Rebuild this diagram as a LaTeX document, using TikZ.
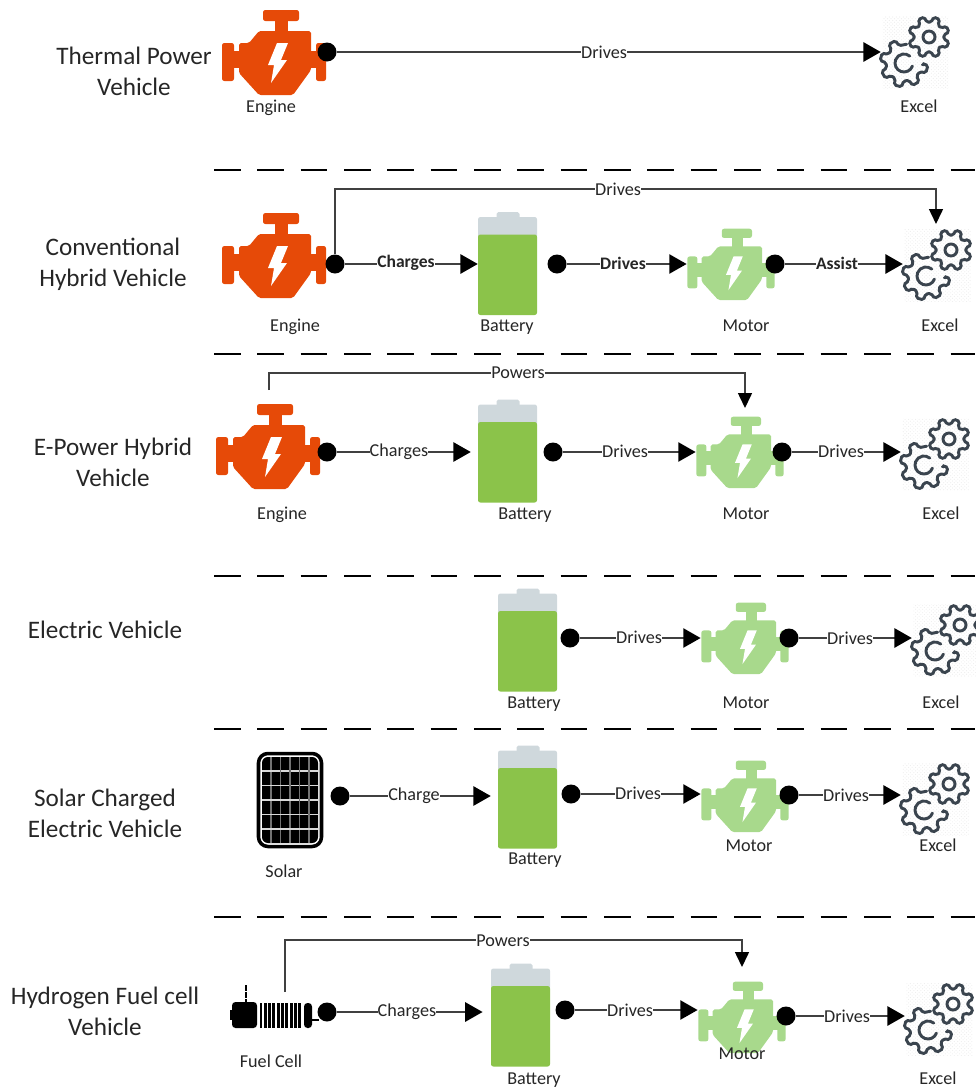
\documentclass[tikz,border=0pt]{standalone}
\usepackage{fontspec}
\setmainfont{Carlito}
\usetikzlibrary{arrows.meta,patterns,calc}
\definecolor{enginered}{HTML}{E64A08}
\definecolor{motorgreen}{HTML}{A8D98C}
\definecolor{batterygreen}{HTML}{8BC34A}
\definecolor{batterygrey}{HTML}{CFD8DC}
\definecolor{gearline}{HTML}{3A444E}
\tikzset{
    rowtitle/.style={align=center,font=\fontsize{21.5}{26.4}\selectfont,text=black!85},
    iconlabel/.style={font=\fontsize{15.5}{17}\selectfont,text=black!85,inner sep=0pt,text height=13pt,text depth=1.6pt},
    flowlabel/.style={font=\fontsize{15.5}{17}\selectfont,text=black!85,fill=white,inner sep=0pt},
    flowbold/.style={flowlabel,font=\fontsize{15}{17}\selectfont\bfseries},
    flow/.style={draw=black!75,line width=1.3pt,-{Triangle[length=.52cm,width=.58cm,fill=black,color=black]}},
    topflow/.style={draw=black!75,line width=1.3pt,-{Triangle[length=.45cm,width=.42cm,fill=black,color=black]}},
    divider/.style={draw=black,line width=.9pt,dash pattern=on .8cm off .5cm},
    dot/.style={circle,fill=black,minimum size=.57cm,inner sep=0pt},
    enginebox/.style={minimum width=3.15cm,minimum height=2.55cm,inner sep=0pt},
    motorbox/.style={minimum width=2.65cm,minimum height=2.1cm,inner sep=0pt},
    batterybox/.style={minimum width=1.77cm,minimum height=3.09cm,inner sep=0pt},
    excelbox/.style={minimum width=2.07cm,minimum height=2.19cm,inner sep=0pt},
    solarbox/.style={minimum width=1.98cm,minimum height=2.91cm,inner sep=0pt},
    fuelbox/.style={minimum width=2.46cm,minimum height=1.29cm,inner sep=0pt},
    pics/engine/.style={code={
        \fill[#1,rounded corners=2pt] (-11,-42) rectangle (25,-31);
        \fill[#1] (1,-32) rectangle (14,-20);
        \fill[#1,rounded corners=1.5pt] (-15,-21) -- (37,-21) -- (37,18) -- (19,43) -- (-15,43) -- (-35,21) -- (-35,-9) -- (-25,-9) -- cycle;
        \fill[#1,rounded corners=2pt] (-52,-9) rectangle (-40,29);
        \fill[#1] (-41,-1) rectangle (-34,16);
        \fill[#1,rounded corners=2pt] (42,-9) rectangle (52,29);
        \fill[#1] (36,-1) rectangle (43,16);
        \fill[white] (3,-9) -- (14,-9) -- (7,8) -- (13,8) -- (-3,31) -- (0,13) -- (-6,13) -- cycle;
    }},
    pics/battery/.style={code={
        \fill[batterygrey,rounded corners=1.5pt] (-11,-51.5) rectangle (12,-40);
        \fill[batterygrey,rounded corners=2pt] (-29.5,-46.5) rectangle (29.5,-25);
        \fill[batterygreen,rounded corners=2pt] (-29.5,-29) -- (29.5,-29) -- (29.5,51.5) -- (-29.5,51.5) -- cycle;
    }},
    pics/excel/.style={code={
        \fill[pattern=crosshatch dots,pattern color=black!7] (-33,-35) rectangle (33,37);
        \begin{scope}[shift={(-11.5,11.5)}]
            \draw[gearline,line width=2.5pt,rounded corners=1.5pt,line cap=round] (6:19)
                \foreach \a in {15,60,105,150,195,240} {
                    -- (\a-14:18) -- (\a-9:24) -- (\a+9:24) -- (\a+14:18)
                } -- (278:19);
            \draw[gearline,line width=2.5pt,line cap=round] (20:9) arc[start angle=20,end angle=310,radius=9];
        \end{scope}
        \begin{scope}[shift={(13.5,-14.5)}]
            \draw[gearline,line width=2.5pt,rounded corners=1.5pt] (8.5:15)
                \foreach \a in {22.5,67.5,112.5,157.5,202.5,247.5,292.5,337.5} {
                    -- (\a-14:15) -- (\a-9:20.5) -- (\a+9:20.5) -- (\a+14:15)
                } -- cycle;
            \draw[gearline,line width=2.5pt] (0,0) circle (6);
        \end{scope}
    }},
    pics/solar/.style={code={
        \draw[black,fill=white,line width=3pt,rounded corners=8pt] (-31.5,-46.5) rectangle (31.5,46.5);
        \fill[black,rounded corners=5pt] (-28,-43) rectangle (28,43);
        \foreach \i in {-2,...,2} {
            \draw[black!55,line width=.9pt] (\i*9.5,-43) -- (\i*9.5,43);
            \draw[white!85!black,line width=1pt] (-28,\i*14.5) -- (28,\i*14.5);
        }
    }},
    pics/fuelcell/.style={code={
        \draw[black,line width=2pt,dash pattern=on 5pt off 1pt] (-25,-22) -- (-25,-5);
        \fill[black,rounded corners=3pt] (-39,-5) rectangle (-14,21);
        \fill[black] (-41,3) rectangle (-36,13);
        \foreach \i in {0,...,9} {
            \draw[black,line width=2.4pt] (-10+\i*4.3,-4) -- (-10+\i*4.3,21);
        }
        \fill[black,rounded corners=3pt] (33,-4) rectangle (41,21);
        \draw[black,line width=1.3pt] (40,13) -- (48,13);
    }}
}
\begin{document}
\begin{tikzpicture}[x=.03cm,y=-.03cm]
    \path[use as bounding box] (0,0) rectangle (975,1089);

    \node[rowtitle] (TITLE1) at (134,71) {Thermal Power\\Vehicle};
    \node[rowtitle] (TITLE2) at (113,264) {Conventional\\Hybrid Vehicle};
    \node[rowtitle] (TITLE3) at (113,462) {E-Power Hybrid\\Vehicle};
    \node[rowtitle] (TITLE4) at (105,630) {Electric Vehicle};
    \node[rowtitle] (TITLE5) at (105,813) {Solar Charged\\Electric Vehicle};
    \node[rowtitle] (TITLE6) at (105,1011) {Hydrogen Fuel cell\\Vehicle};

    \coordinate (DIVL1) at (214,170);
    \coordinate (DIVR1) at (975,170);
    \coordinate (DIVL2) at (214,354);
    \coordinate (DIVR2) at (975,354);
    \coordinate (DIVL3) at (214,576);
    \coordinate (DIVR3) at (975,576);
    \coordinate (DIVL4) at (214,729);
    \coordinate (DIVR4) at (975,729);
    \coordinate (DIVL5) at (214,917);
    \coordinate (DIVR5) at (975,917);
    \draw[divider] (DIVL1) -- (DIVR1);
    \draw[divider] (DIVL2) -- (DIVR2);
    \draw[divider] (DIVL3) -- (DIVR3);
    \draw[divider] (DIVL4) -- (DIVR4);
    \draw[divider] (DIVL5) -- (DIVR5);

    \node[enginebox] (ENG1) at (274,52) {};
    \pic at (ENG1) {engine=enginered};
    \node[excelbox] (EXC1) at (915.5,51.5) {};
    \pic at (EXC1) {excel};
    \node[dot] (D1) at (327,52) {};
    \draw[flow] (D1) -- (D1 -| EXC1.west);
    \node[flowlabel] (L1) at (604,52) {Drives};
    \node[iconlabel] (ENGT1) at (271,106) {Engine};
    \node[iconlabel] (EXCT1) at (919,106) {Excel};

    \node[enginebox] (ENG2) at (274,255) {};
    \pic at (ENG2) {engine=enginered};
    \node[batterybox] (BAT2) at (507.5,263.5) {};
    \pic at (BAT2) {battery};
    \node[motorbox] (MOT2) at (731,264) {};
    \pic[scale=.84] at (MOT2) {engine=motorgreen};
    \node[excelbox] (EXC2) at (937.5,264.5) {};
    \pic at (EXC2) {excel};
    \node[dot] (D2) at (335,264) {};
    \node[dot] (D3) at (557,264) {};
    \node[dot] (D4) at (775,264) {};
    \coordinate (C2) at (936,189);
    \coordinate (T2) at (936,224);
    \draw[flow] (D2) -- (D2 -| BAT2.west);
    \draw[flow] (D3) -- (D3 -| MOT2.west);
    \draw[flow] (D4) -- (D4 -| EXC2.west);
    \draw[topflow] (D2) |- (C2) -- (T2);
    \node[flowbold] (L2) at (406,263) {Charges};
    \node[flowbold] (L3) at (623,263) {Drives};
    \node[flowbold] (L4) at (837,263) {Assist};
    \node[flowlabel] (L5) at (618,189) {Drives};
    \node[iconlabel] (ENGT2) at (295,325) {Engine};
    \node[iconlabel] (BATT2) at (507,325) {Battery};
    \node[iconlabel] (MOTT2) at (746,325) {Motor};
    \node[iconlabel] (EXCT2) at (940,325) {Excel};

    \node[enginebox] (ENG3) at (268,446) {};
    \pic at (ENG3) {engine=enginered};
    \node[batterybox] (BAT3) at (507.5,451) {};
    \pic at (BAT3) {battery};
    \node[motorbox] (MOT3) at (740,452) {};
    \pic[scale=.84] at (MOT3) {engine=motorgreen};
    \node[excelbox] (EXC3) at (935.5,453.5) {};
    \pic at (EXC3) {excel};
    \node[dot] (D5) at (327,452) {};
    \node[dot] (D6) at (553,452) {};
    \node[dot] (D7) at (782,452) {};
    \coordinate (S3) at (269,390);
    \coordinate (C3) at (745,373);
    \coordinate (T3) at (745,408);
    \draw[flow,shorten >=6pt] (D5) -- (D5 -| BAT3.west);
    \draw[flow] (D6) -- (D6 -| MOT3.west);
    \draw[flow] (D7) -- (D7 -| EXC3.west);
    \draw[topflow] (S3) |- (C3) -- (T3);
    \node[flowlabel] (L6) at (399,452) {Charges};
    \node[flowlabel] (L7) at (625,451) {Drives};
    \node[flowlabel] (L8) at (841,451) {Drives};
    \node[flowlabel] (L9) at (518,373) {Powers};
    \node[iconlabel] (ENGT3) at (282,513) {Engine};
    \node[iconlabel] (BATT3) at (525,513) {Battery};
    \node[iconlabel] (MOTT3) at (746,513) {Motor};
    \node[iconlabel] (EXCT3) at (941,513) {Excel};

    \node[batterybox] (BAT4) at (527.5,640) {};
    \pic at (BAT4) {battery};
    \node[motorbox] (MOT4) at (745,638) {};
    \pic[scale=.84] at (MOT4) {engine=motorgreen};
    \node[excelbox] (EXC4) at (946.5,639.5) {};
    \pic at (EXC4) {excel};
    \node[dot] (D8) at (570,638) {};
    \node[dot] (D9) at (789,638) {};
    \draw[flow] (D8) -- (D8 -| MOT4.west);
    \draw[flow] (D9) -- (D9 -| EXC4.west);
    \node[flowlabel] (L10) at (639,637) {Drives};
    \node[flowlabel] (L11) at (850,638) {Drives};
    \node[iconlabel] (BATT4) at (534,702) {Battery};
    \node[iconlabel] (MOTT4) at (746,702) {Motor};
    \node[iconlabel] (EXCT4) at (941,702) {Excel};

    \node[solarbox] (SOL5) at (290,800) {};
    \pic at (SOL5) {solar};
    \node[batterybox] (BAT5) at (527.5,797) {};
    \pic at (BAT5) {battery};
    \node[motorbox] (MOT5) at (745,796) {};
    \pic[scale=.84] at (MOT5) {engine=motorgreen};
    \node[excelbox] (EXC5) at (935.5,798.5) {};
    \pic at (EXC5) {excel};
    \node[dot] (D10) at (340,796) {};
    \node[dot] (D11) at (571,794) {};
    \node[dot] (D12) at (789,795) {};
    \draw[flow,shorten >=6pt] (D10) -- (D10 -| BAT5.west);
    \draw[flow] (D11) -- (D11 -| MOT5.west);
    \draw[flow] (D12) -- (D12 -| EXC5.west);
    \node[flowlabel] (L12) at (414,796) {Charge};
    \node[flowlabel] (L13) at (638,793) {Drives};
    \node[flowlabel] (L14) at (846,795) {Drives};
    \node[iconlabel] (SOLT5) at (284,871) {Solar};
    \node[iconlabel] (BATT5) at (535,858) {Battery};
    \node[iconlabel] (MOTT5) at (749,845) {Motor};
    \node[iconlabel] (EXCT5) at (938,845) {Excel};

    \node[fuelbox] (FUEL6) at (271,1007) {};
    \pic at (FUEL6) {fuelcell};
    \node[batterybox] (BAT6) at (520.5,1015) {};
    \pic at (BAT6) {battery};
    \node[motorbox] (MOT6) at (742,1017) {};
    \pic[scale=.84] at (MOT6) {engine=motorgreen};
    \node[excelbox] (EXC6) at (939.5,1018.5) {};
    \pic at (EXC6) {excel};
    \node[dot] (D13) at (327,1012) {};
    \node[dot] (D14) at (565,1010) {};
    \node[dot] (D15) at (786,1016) {};
    \coordinate (S6) at (285,992);
    \coordinate (C6) at (742,940);
    \coordinate (T6) at (742,967);
    \draw[flow,shorten >=7pt] (D13) -- (D13 -| BAT6.west);
    \draw[flow] (D14) -- (D14 -| MOT6.west);
    \draw[flow] (D15) -- (D15 -| EXC6.west);
    \draw[topflow] (S6) |- (C6) -- (T6);
    \node[flowlabel] (L15) at (407,1012) {Charges};
    \node[flowlabel] (L16) at (630,1010) {Drives};
    \node[flowlabel] (L17) at (847,1016) {Drives};
    \node[flowlabel] (L18) at (503,941) {Powers};
    \node[iconlabel] (FUELT6) at (271,1061) {Fuel Cell};
    \node[iconlabel] (BATT6) at (534,1078) {Battery};
    \node[iconlabel] (MOTT6) at (742,1053) {Motor};
    \node[iconlabel] (EXCT6) at (938,1078) {Excel};
\end{tikzpicture}
\end{document}
